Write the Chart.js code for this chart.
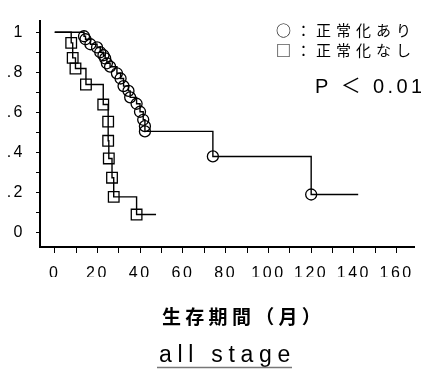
<!DOCTYPE html>
<html>
<head>
<meta charset="utf-8">
<script src="https://cdn.jsdelivr.net/npm/chart.js@4.4.1/dist/chart.umd.min.js"></script>
<style>
  html, body { margin: 0; padding: 0; background: #fff; }
  #wrap { position: relative; width: 421px; height: 369px; }
</style>
</head>
<body>
<div id="wrap"><canvas id="km" width="421" height="369"></canvas></div>
<script>
// survival curves (months, survival probability)
const CIRCLE_T = [0, 13.7, 14.4, 16.7, 19.8, 21.3, 22.8, 23.6, 24.4, 25.9, 29.1, 30.8, 32.2, 34.5, 35.3, 38.3, 39.9, 41.4, 42.2, 42.2, 74, 120, 142];
const CIRCLE_S = [1, 0.98, 0.965, 0.94, 0.924, 0.90, 0.885, 0.869, 0.845, 0.828, 0.795, 0.769, 0.731, 0.707, 0.675, 0.643, 0.603, 0.563, 0.531, 0.505, 0.38, 0.19, 0.19];
const SQUARE_T = [0, 7.7, 8.4, 9.7, 14.6, 22.7, 25.0, 25.0, 25.3, 26.8, 27.6, 38.3, 47.4];
const SQUARE_S = [1, 0.947, 0.872, 0.819, 0.739, 0.639, 0.554, 0.458, 0.370, 0.274, 0.178, 0.09, 0.09];

const X_TICKS = [0, 10, 20, 30, 40, 50, 60, 70, 80, 90, 100, 110, 120, 130, 140, 150, 160];
const X_LABELED = [0, 20, 40, 60, 80, 100, 120, 140, 160];
const Y_TICKS = [0, 0.1, 0.2, 0.3, 0.4, 0.5, 0.6, 0.7, 0.8, 0.9, 1];
const Y_LABEL_VALUES = [0, 0.2, 0.4, 0.6, 0.8, 1];
const Y_LABELS = ['0', '.2', '.4', '.6', '.8', '1'];

const LEGEND_LINES = ['○：正常化あり', '□：正常化なし'];
const P_TEXT = 'P ＜ 0.01';
const X_TITLE = '生存期間（月）';
const SUBTITLE = 'all stage';

const toPts = (ts, ss) => ts.map((t, i) => ({x: t, y: ss[i]}));
// markers on every step except the start and the tail end
const markRadius = (n, r) => Array.from({length: n}, (_, i) => (i === 0 || i === n - 1) ? 0 : r);

const annotate = {
  id: 'annotate',
  beforeDraw(chart) {
    chart.ctx.letterSpacing = '2.5px';
  },
  afterDraw(chart) {
    const ctx = chart.ctx;
    ctx.save();
    ctx.fillStyle = '#000';
    ctx.textBaseline = 'middle';
    ctx.textAlign = 'left';

    ctx.font = '15px "Noto Sans CJK JP"';
    ctx.letterSpacing = '5px';
    ctx.fillText(LEGEND_LINES[0], 276, 30);
    ctx.fillText(LEGEND_LINES[1], 276, 50);

    ctx.font = '20px "Liberation Sans", "Noto Sans CJK JP"';
    ctx.letterSpacing = '3.4px';
    ctx.fillText(P_TEXT, 315, 87);

    ctx.font = 'bold 19px "Noto Sans CJK JP"';
    ctx.letterSpacing = '4.3px';
    ctx.fillText(X_TITLE, 162, 317);

    ctx.font = '23px "Liberation Sans"';
    ctx.letterSpacing = '5.7px';
    ctx.textBaseline = 'alphabetic';
    ctx.fillText(SUBTITLE, 159, 362);

    ctx.strokeStyle = '#777';
    ctx.lineWidth = 1.5;
    ctx.beginPath();
    ctx.moveTo(157, 367.5);
    ctx.lineTo(292, 367.5);
    ctx.stroke();
    ctx.restore();
  }
};

new Chart(document.getElementById('km'), {
  type: 'line',
  data: {
    datasets: [
      {
        label: '正常化なし',
        data: toPts(SQUARE_T, SQUARE_S),
        stepped: true,
        borderColor: '#000',
        borderWidth: 1.4,
        pointStyle: 'rect',
        pointRadius: markRadius(SQUARE_T.length, 7.5),
        pointBorderColor: '#000',
        pointBackgroundColor: 'rgba(255,255,255,0)',
        pointBorderWidth: 1.3
      },
      {
        label: '正常化あり',
        data: toPts(CIRCLE_T, CIRCLE_S),
        stepped: true,
        borderColor: '#000',
        borderWidth: 1.4,
        pointStyle: 'circle',
        pointRadius: markRadius(CIRCLE_T.length, 5.5),
        pointBorderColor: '#000',
        pointBackgroundColor: 'rgba(255,255,255,0)',
        pointBorderWidth: 1.3
      }
    ]
  },
  options: {
    responsive: false,
    animation: false,
    devicePixelRatio: 1,
    layout: { padding: { top: 12, left: 0, right: 0, bottom: 92 } },
    plugins: { legend: { display: false }, tooltip: { enabled: false } },
    scales: {
      x: {
        type: 'linear',
        min: -6.9,
        max: 168.3,
        afterFit: s => { s.height = 30; },
        afterBuildTicks: s => { s.ticks = X_TICKS.map(v => ({value: v})); },
        ticks: {
          autoSkip: false,
          maxRotation: 0,
          padding: 11,
          color: '#000',
          font: { family: 'Liberation Sans', size: 16 },
          callback: v => X_LABELED.includes(v) ? String(v) : ''
        },
        grid: { display: true, drawOnChartArea: false, drawTicks: true, tickLength: 6, color: '#000', lineWidth: 1 },
        border: { display: true, color: '#000', width: 2 }
      },
      y: {
        type: 'linear',
        min: -0.072,
        max: 1.058,
        afterFit: s => { s.width = 40; },
        afterBuildTicks: s => { s.ticks = Y_TICKS.map(v => ({value: v})); },
        ticks: {
          autoSkip: false,
          padding: 11,
          color: '#000',
          font: { family: 'Liberation Sans', size: 16 },
          callback: v => {
            const i = Y_LABEL_VALUES.findIndex(y => Math.abs(y - v) < 1e-6);
            return i < 0 ? '' : Y_LABELS[i];
          }
        },
        grid: { display: true, drawOnChartArea: false, drawTicks: true, tickLength: 4, color: '#000', lineWidth: 1 },
        border: { display: true, color: '#000', width: 2 }
      }
    }
  },
  plugins: [annotate]
});
</script>
</body>
</html>
